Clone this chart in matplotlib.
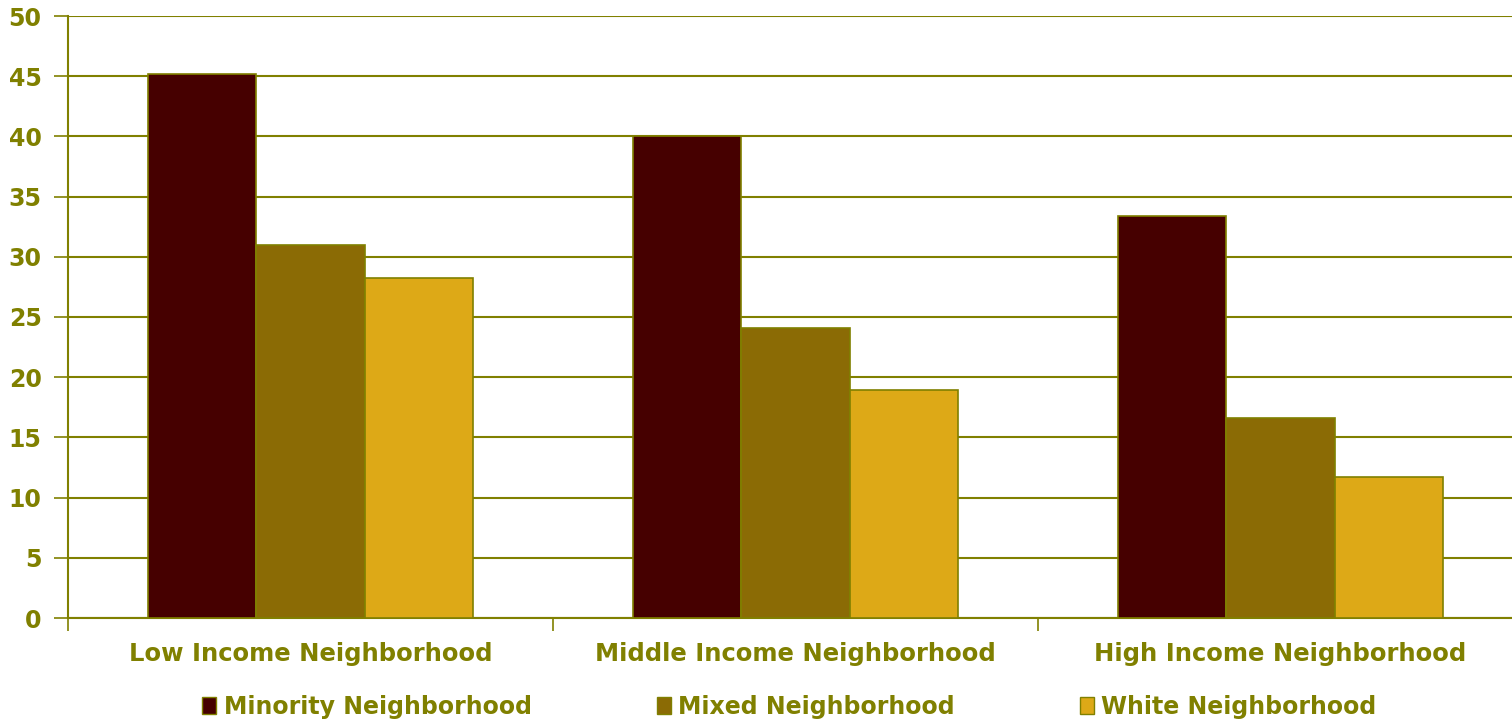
import matplotlib
matplotlib.use("Agg")
import matplotlib.pyplot as plt
import numpy as np
from matplotlib.patches import Patch

categories = ["Low Income Neighborhood", "Middle Income Neighborhood", "High Income Neighborhood"]
series_names = ["Minority Neighborhood", "Mixed Neighborhood", "White Neighborhood"]
minority = [45.2, 40.0, 33.4]
mixed = [31.0, 24.1, 16.6]
white = [28.2, 18.9, 11.7]

colors = ["#460000", "#8B6B05", "#DDA917"]
olive = "#808000"

plt.rcParams["font.family"] = "DejaVu Sans"
plt.rcParams["font.weight"] = "bold"

fig = plt.figure(figsize=(15.12, 7.2), dpi=100)
ax = fig.add_axes([68 / 1512, 102 / 720, 1455 / 1512, 602 / 720])

width = 0.223
x = np.arange(len(categories)) + 0.5
for i, (vals, c) in enumerate(zip([minority, mixed, white], colors)):
    ax.bar(x + (i - 1) * width, vals, width, color=c, edgecolor=olive, linewidth=1.2, zorder=3)

ax.set_xlim(0, 3)
ax.set_ylim(0, 50)
ax.set_yticks(range(0, 51, 5))
ax.yaxis.grid(True, color=olive, linewidth=1.5, zorder=0)
ax.set_axisbelow(True)

# category boundaries carry the ticks, labels sit in the middle
ax.set_xticks([0, 1, 2, 3])
ax.set_xticklabels([])
ax.set_xticks(x, minor=True)
ax.set_xticklabels(categories, minor=True)
ax.tick_params(axis="x", which="major", length=9, color=olive, width=1.2)
ax.tick_params(axis="x", which="minor", length=0, pad=17, labelsize=17.5, labelcolor=olive)
ax.tick_params(axis="y", length=10, color=olive, width=1.2, labelsize=17, labelcolor=olive, pad=9)

for side in ["top", "right"]:
    ax.spines[side].set_visible(False)
for side in ["left", "bottom"]:
    ax.spines[side].set_color(olive)
    ax.spines[side].set_linewidth(1.5)

handles = [Patch(facecolor=c, edgecolor=olive, linewidth=1.0) for c in colors]
fig.legend(handles, series_names, loc="center", bbox_to_anchor=(0.522, 0.018), ncol=3,
           frameon=False, fontsize=17, labelcolor=olive, handlelength=0.6, handleheight=0.75,
           handletextpad=0.3, columnspacing=5.3)

fig.savefig("out.png", dpi=100)
